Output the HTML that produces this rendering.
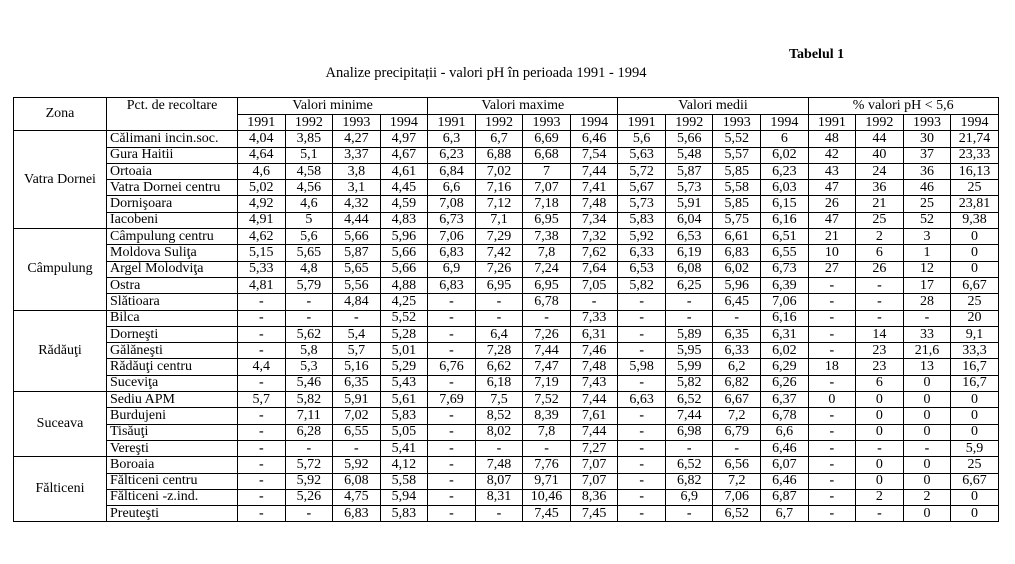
<!DOCTYPE html>
<html><head><meta charset="utf-8"><style>
body{margin:0;background:#fff;width:1015px;height:564px;position:relative;font-family:"Liberation Serif",serif;color:#000}
.t1{position:absolute;left:789px;top:47px;font-weight:bold;font-size:14px}
.t2{position:absolute;left:0;width:972px;text-align:center;top:65px;font-size:14.5px}
table{position:absolute;left:13px;top:97px;border-collapse:collapse;table-layout:fixed;width:985px;font-size:14px}
td{border:1px solid #000;padding:0;text-align:center;line-height:14px;height:15.3px;white-space:nowrap;overflow:hidden}
td.n{text-align:left;padding-left:3px}
tr.h1 td{height:16px}
</style></head><body>
<div class="t1">Tabelul 1</div>
<div class="t2">Analize precipitații - valori pH în perioada 1991 - 1994</div>
<table>
<colgroup><col style="width:93px"><col style="width:131px"><col span="16" style="width:47.56px"></colgroup>
<tr class="h1"><td rowspan="2">Zona</td><td rowspan="2" style="vertical-align:top;padding-top:1px">Pct. de recoltare</td><td colspan="4">Valori minime</td><td colspan="4">Valori maxime</td><td colspan="4">Valori medii</td><td colspan="4">% valori pH &lt; 5,6</td></tr>
<tr><td>1991</td><td>1992</td><td>1993</td><td>1994</td><td>1991</td><td>1992</td><td>1993</td><td>1994</td><td>1991</td><td>1992</td><td>1993</td><td>1994</td><td>1991</td><td>1992</td><td>1993</td><td>1994</td></tr>
<tr><td rowspan="6">Vatra Dornei</td><td class="n">Călimani incin.soc.</td><td>4,04</td><td>3,85</td><td>4,27</td><td>4,97</td><td>6,3</td><td>6,7</td><td>6,69</td><td>6,46</td><td>5,6</td><td>5,66</td><td>5,52</td><td>6</td><td>48</td><td>44</td><td>30</td><td>21,74</td></tr>
<tr><td class="n">Gura Haitii</td><td>4,64</td><td>5,1</td><td>3,37</td><td>4,67</td><td>6,23</td><td>6,88</td><td>6,68</td><td>7,54</td><td>5,63</td><td>5,48</td><td>5,57</td><td>6,02</td><td>42</td><td>40</td><td>37</td><td>23,33</td></tr>
<tr><td class="n">Ortoaia</td><td>4,6</td><td>4,58</td><td>3,8</td><td>4,61</td><td>6,84</td><td>7,02</td><td>7</td><td>7,44</td><td>5,72</td><td>5,87</td><td>5,85</td><td>6,23</td><td>43</td><td>24</td><td>36</td><td>16,13</td></tr>
<tr><td class="n">Vatra Dornei centru</td><td>5,02</td><td>4,56</td><td>3,1</td><td>4,45</td><td>6,6</td><td>7,16</td><td>7,07</td><td>7,41</td><td>5,67</td><td>5,73</td><td>5,58</td><td>6,03</td><td>47</td><td>36</td><td>46</td><td>25</td></tr>
<tr><td class="n">Dornişoara</td><td>4,92</td><td>4,6</td><td>4,32</td><td>4,59</td><td>7,08</td><td>7,12</td><td>7,18</td><td>7,48</td><td>5,73</td><td>5,91</td><td>5,85</td><td>6,15</td><td>26</td><td>21</td><td>25</td><td>23,81</td></tr>
<tr><td class="n">Iacobeni</td><td>4,91</td><td>5</td><td>4,44</td><td>4,83</td><td>6,73</td><td>7,1</td><td>6,95</td><td>7,34</td><td>5,83</td><td>6,04</td><td>5,75</td><td>6,16</td><td>47</td><td>25</td><td>52</td><td>9,38</td></tr>
<tr><td rowspan="5">Câmpulung</td><td class="n">Câmpulung centru</td><td>4,62</td><td>5,6</td><td>5,66</td><td>5,96</td><td>7,06</td><td>7,29</td><td>7,38</td><td>7,32</td><td>5,92</td><td>6,53</td><td>6,61</td><td>6,51</td><td>21</td><td>2</td><td>3</td><td>0</td></tr>
<tr><td class="n">Moldova Suliţa</td><td>5,15</td><td>5,65</td><td>5,87</td><td>5,66</td><td>6,83</td><td>7,42</td><td>7,8</td><td>7,62</td><td>6,33</td><td>6,19</td><td>6,83</td><td>6,55</td><td>10</td><td>6</td><td>1</td><td>0</td></tr>
<tr><td class="n">Argel Molodviţa</td><td>5,33</td><td>4,8</td><td>5,65</td><td>5,66</td><td>6,9</td><td>7,26</td><td>7,24</td><td>7,64</td><td>6,53</td><td>6,08</td><td>6,02</td><td>6,73</td><td>27</td><td>26</td><td>12</td><td>0</td></tr>
<tr><td class="n">Ostra</td><td>4,81</td><td>5,79</td><td>5,56</td><td>4,88</td><td>6,83</td><td>6,95</td><td>6,95</td><td>7,05</td><td>5,82</td><td>6,25</td><td>5,96</td><td>6,39</td><td><b>-</b></td><td><b>-</b></td><td>17</td><td>6,67</td></tr>
<tr><td class="n">Slătioara</td><td><b>-</b></td><td><b>-</b></td><td>4,84</td><td>4,25</td><td><b>-</b></td><td><b>-</b></td><td>6,78</td><td><b>-</b></td><td><b>-</b></td><td><b>-</b></td><td>6,45</td><td>7,06</td><td><b>-</b></td><td><b>-</b></td><td>28</td><td>25</td></tr>
<tr><td rowspan="5">Rădăuţi</td><td class="n">Bilca</td><td><b>-</b></td><td><b>-</b></td><td><b>-</b></td><td>5,52</td><td><b>-</b></td><td><b>-</b></td><td><b>-</b></td><td>7,33</td><td><b>-</b></td><td><b>-</b></td><td><b>-</b></td><td>6,16</td><td><b>-</b></td><td><b>-</b></td><td><b>-</b></td><td>20</td></tr>
<tr><td class="n">Dorneşti</td><td><b>-</b></td><td>5,62</td><td>5,4</td><td>5,28</td><td><b>-</b></td><td>6,4</td><td>7,26</td><td>6,31</td><td><b>-</b></td><td>5,89</td><td>6,35</td><td>6,31</td><td><b>-</b></td><td>14</td><td>33</td><td>9,1</td></tr>
<tr><td class="n">Gălăneşti</td><td><b>-</b></td><td>5,8</td><td>5,7</td><td>5,01</td><td><b>-</b></td><td>7,28</td><td>7,44</td><td>7,46</td><td><b>-</b></td><td>5,95</td><td>6,33</td><td>6,02</td><td><b>-</b></td><td>23</td><td>21,6</td><td>33,3</td></tr>
<tr><td class="n">Rădăuţi centru</td><td>4,4</td><td>5,3</td><td>5,16</td><td>5,29</td><td>6,76</td><td>6,62</td><td>7,47</td><td>7,48</td><td>5,98</td><td>5,99</td><td>6,2</td><td>6,29</td><td>18</td><td>23</td><td>13</td><td>16,7</td></tr>
<tr><td class="n">Suceviţa</td><td><b>-</b></td><td>5,46</td><td>6,35</td><td>5,43</td><td><b>-</b></td><td>6,18</td><td>7,19</td><td>7,43</td><td><b>-</b></td><td>5,82</td><td>6,82</td><td>6,26</td><td><b>-</b></td><td>6</td><td>0</td><td>16,7</td></tr>
<tr><td rowspan="4">Suceava</td><td class="n">Sediu APM</td><td>5,7</td><td>5,82</td><td>5,91</td><td>5,61</td><td>7,69</td><td>7,5</td><td>7,52</td><td>7,44</td><td>6,63</td><td>6,52</td><td>6,67</td><td>6,37</td><td>0</td><td>0</td><td>0</td><td>0</td></tr>
<tr><td class="n">Burdujeni</td><td><b>-</b></td><td>7,11</td><td>7,02</td><td>5,83</td><td><b>-</b></td><td>8,52</td><td>8,39</td><td>7,61</td><td><b>-</b></td><td>7,44</td><td>7,2</td><td>6,78</td><td><b>-</b></td><td>0</td><td>0</td><td>0</td></tr>
<tr><td class="n">Tisăuţi</td><td><b>-</b></td><td>6,28</td><td>6,55</td><td>5,05</td><td><b>-</b></td><td>8,02</td><td>7,8</td><td>7,44</td><td><b>-</b></td><td>6,98</td><td>6,79</td><td>6,6</td><td><b>-</b></td><td>0</td><td>0</td><td>0</td></tr>
<tr><td class="n">Vereşti</td><td><b>-</b></td><td><b>-</b></td><td><b>-</b></td><td>5,41</td><td><b>-</b></td><td><b>-</b></td><td><b>-</b></td><td>7,27</td><td><b>-</b></td><td><b>-</b></td><td><b>-</b></td><td>6,46</td><td><b>-</b></td><td><b>-</b></td><td><b>-</b></td><td>5,9</td></tr>
<tr><td rowspan="4">Fălticeni</td><td class="n">Boroaia</td><td><b>-</b></td><td>5,72</td><td>5,92</td><td>4,12</td><td><b>-</b></td><td>7,48</td><td>7,76</td><td>7,07</td><td><b>-</b></td><td>6,52</td><td>6,56</td><td>6,07</td><td><b>-</b></td><td>0</td><td>0</td><td>25</td></tr>
<tr><td class="n">Fălticeni centru</td><td><b>-</b></td><td>5,92</td><td>6,08</td><td>5,58</td><td><b>-</b></td><td>8,07</td><td>9,71</td><td>7,07</td><td><b>-</b></td><td>6,82</td><td>7,2</td><td>6,46</td><td><b>-</b></td><td>0</td><td>0</td><td>6,67</td></tr>
<tr><td class="n">Fălticeni -z.ind.</td><td><b>-</b></td><td>5,26</td><td>4,75</td><td>5,94</td><td><b>-</b></td><td>8,31</td><td>10,46</td><td>8,36</td><td><b>-</b></td><td>6,9</td><td>7,06</td><td>6,87</td><td><b>-</b></td><td>2</td><td>2</td><td>0</td></tr>
<tr><td class="n">Preuteşti</td><td><b>-</b></td><td><b>-</b></td><td>6,83</td><td>5,83</td><td><b>-</b></td><td><b>-</b></td><td>7,45</td><td>7,45</td><td><b>-</b></td><td><b>-</b></td><td>6,52</td><td>6,7</td><td><b>-</b></td><td><b>-</b></td><td>0</td><td>0</td></tr>
</table>
</body></html>
